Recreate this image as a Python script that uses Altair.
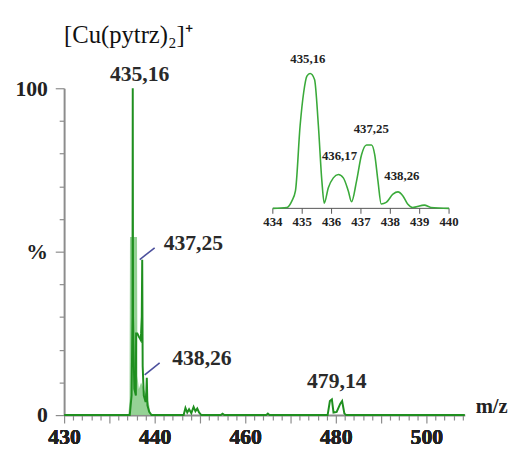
import altair as alt
import pandas as pd

# ---------------- data ----------------
main_mz = [420, 434.5, 434.9, 435.1, 435.16, 435.22, 435.5, 435.85, 435.9, 436.17, 436.5,
           436.9, 437.0, 437.15, 437.25, 437.35, 437.6, 438.0, 438.15, 438.26, 438.4, 438.8,
           439.3, 446.4, 446.8, 447.2, 447.6, 448.1, 448.6, 449.0, 449.4, 449.8, 450.3,
           454.6, 455.0, 455.4, 464.6, 465.0, 465.4, 478.2, 478.7, 479.14, 479.5, 480.2,
           481.0, 481.4, 481.9, 482.3, 508.5]
main_int = [0, 0, 6, 30, 100, 30, 8, 6, 25, 25, 24,
            23, 25, 30, 47.5, 15, 6, 4, 7, 11.4, 3, 1,
            0, 0, 2.2, 0.8, 1.8, 0.6, 2.5, 1.2, 2.0, 0.8, 0,
            0, 0.4, 0, 0, 0.5, 0, 0, 4.3, 4.8, 0.8, 1.0,
            3.5, 4.3, 0.5, 0, 0]

env_mz = [434.2, 434.45, 434.55, 436.1, 436.2, 436.5, 437.0, 437.6, 438.2, 438.8, 439.0]
env_int = [0, 5, 54.5, 54.5, 12, 8, 10, 8, 6, 3, 0]

inset_mz = [434.0, 434.48, 434.65, 434.77, 434.93, 435.05, 435.16, 435.27, 435.42, 435.55,
            435.67, 435.75, 435.89, 436.06, 436.23, 436.40, 436.57, 436.68, 436.85, 437.02,
            437.19, 437.36, 437.47, 437.58, 437.69, 437.86, 438.09, 438.26, 438.43, 438.59,
            438.76, 439.16, 439.38, 440.0]
inset_int = [0, 0.7, 5.6, 12.9, 61.6, 85.9, 98, 100, 95.6, 61.6,
             20.2, 3.9, 15.3, 22.6, 25.1, 22.6, 12.9, 4.9, 20.2, 39.7,
             47, 47, 39.7, 20.2, 3.2, 4.4, 10.5, 12.2, 9.2, 3.2,
             0.7, 2.4, 0.7, 0]

main_label_text = ["435,16", "437,25", "438,26", "479,14"]
main_label_mz = [435.16, 437.25, 438.26, 479.14]
main_label_int = [100, 47.5, 11.4, 4.8]

inset_label_text = ["435,16", "436,17", "437,25", "438,26"]
inset_label_mz = [435.16, 436.17, 437.25, 438.26]
inset_label_int = [100, 25.1, 47, 12.2]

pointer_x = [436.7, 437.8]
pointer_x2 = [440.0, 441.1]
pointer_y = [47.6, 12.3]
pointer_y2 = [51.2, 16.0]

x_tick_values = [420, 440, 460, 480, 500]
x_tick_text = ["430", "440", "460", "480", "500"]
y_tick_values = [0, 50, 100]
y_tick_text = ["0", "%", "100"]
inset_tick_values = [434, 435, 436, 437, 438, 439, 440]

# ---------------- frames ----------------
main_df = pd.DataFrame({"mz": main_mz, "inten": main_int})
env_df = pd.DataFrame({"mz": env_mz, "inten": env_int})
inset_df = pd.DataFrame({"imz": inset_mz, "iint": inset_int})
mlab_df = pd.DataFrame({"t": main_label_text, "mz": main_label_mz, "inten": main_label_int})
ilab_df = pd.DataFrame({"t": inset_label_text, "imz": inset_label_mz, "iint": inset_label_int})
ptr_df = pd.DataFrame({"mz": pointer_x, "mz2": pointer_x2, "inten": pointer_y, "inten2": pointer_y2})
itick_df = pd.DataFrame({"imz": inset_tick_values, "lab": [str(v) for v in inset_tick_values],
                         "y0": [0] * len(inset_tick_values)})

SERIF = "Times New Roman, Liberation Serif, serif"
DARK = "#1f8f1f"
LIGHT = "#8fd08f"


def label_expr(vals, texts):
    expr = "''"
    for v, t in reversed(list(zip(vals, texts))):
        expr = f"datum.value == {v} ? '{t}' : ({expr})"
    return expr


xscale = alt.Scale(domain=[420, 508.5], nice=False, zero=False)
yscale = alt.Scale(domain=[0, 100], nice=False, zero=False)

common_axis = dict(
    domainColor="#8c8c8c", domainWidth=2, tickColor="#8c8c8c", tickWidth=1.2,
    labelFont=SERIF, labelFontWeight="bold", labelFontSize=22, labelColor="#222222",
    grid=False, title=None, labelOverlap=False, labelFlush=False,
)

# minor x ticks (no labels) and major labelled x axis, both at the bottom
xaxis_minor = alt.Axis(orient="bottom", values=list(range(420, 509, 2)), labels=False,
                       tickSize={"condition": {"test": "datum.value % 10 === 0", "value": 8}, "value": 5},
                       **common_axis)
xaxis_major = alt.Axis(orient="bottom", values=x_tick_values,
                       labelExpr=label_expr(x_tick_values, x_tick_text),
                       ticks=False, domain=False, labelPadding=12, **common_axis)

yaxis = alt.Axis(
    orient="left",
    values=list(range(0, 101, 10)),
    labelExpr=label_expr(y_tick_values, y_tick_text),
    tickSize={"condition": {"test": "datum.value % 50 === 0", "value": 9}, "value": 5},
    labelPadding=8, labelBaseline="middle",
    **common_axis,
)

X = alt.X("mz:Q", scale=xscale, axis=xaxis_minor)
XM = alt.X("mz:Q", scale=xscale, axis=xaxis_major)
Y = alt.Y("inten:Q", scale=yscale, axis=yaxis)

env = alt.Chart(env_df).mark_area(color=LIGHT, opacity=0.95).encode(x=X, y=Y)
spec = alt.Chart(main_df).mark_line(color=DARK, strokeWidth=2).encode(x=XM, y=Y)
ptr = alt.Chart(ptr_df).mark_rule(color="#4b4f9c", strokeWidth=1.6).encode(
    x=XM, x2="mz2:Q", y=Y, y2="inten2:Q")

main_offsets = [(7, -14), (52, -17), (56, -20), (5, -19)]
main_labels = []
for (t, (dx, dy)) in zip(main_label_text, main_offsets):
    main_labels.append(
        alt.Chart(mlab_df).transform_filter(alt.datum.t == t).mark_text(
            font=SERIF, fontWeight="bold", fontSize=22, color="#2a2a2a",
            dx=dx, dy=dy, align="center", baseline="middle"
        ).encode(x=XM, y=Y, text="t:N")
    )

title_txt = alt.Chart(pd.DataFrame({"t": ["[Cu(pytrz)₂]⁺"]})).mark_text(
    font=SERIF, fontSize=25, color="#111111", align="left", baseline="alphabetic"
).encode(x=alt.value(0), y=alt.value(-46), text="t:N")

mz_txt = alt.Chart(pd.DataFrame({"t": ["m/z"]})).mark_text(
    font=SERIF, fontWeight="bold", fontSize=21, color="#222222", align="left", baseline="middle"
).encode(x=alt.value(418), y=alt.value(324), text="t:N")

main_layer = alt.layer(env, spec, ptr, *main_labels, title_txt, mz_txt).resolve_axis(x="independent")

# ---------------- inset ----------------
iscale_x = alt.Scale(domain=[434, 440], range=[212, 391], nice=False, zero=False)
iscale_y = alt.Scale(domain=[0, 100], range=[122, -15], nice=False, zero=False)
IX = alt.X("imz:Q", scale=iscale_x, axis=None)
IY = alt.Y("iint:Q", scale=iscale_y, axis=None)

ibase = alt.Chart(itick_df).mark_rule(color="#555555", strokeWidth=1).encode(
    x=alt.X("min(imz):Q", scale=iscale_x, axis=None), x2="max(imz):Q",
    y=alt.Y("min(y0):Q", scale=iscale_y, axis=None))
iticks = alt.Chart(itick_df).mark_rule(color="#555555", strokeWidth=1).encode(
    x=IX, y=alt.Y("y0:Q", scale=iscale_y, axis=None), y2=alt.datum(-4))
iticklab = alt.Chart(itick_df).mark_text(
    font=SERIF, fontWeight="bold", fontSize=13, color="#222222", dy=14, baseline="middle"
).encode(x=IX, y=alt.Y("y0:Q", scale=iscale_y, axis=None), text="lab:N")
icurve = alt.Chart(inset_df).mark_line(color="#3aaa3a", strokeWidth=1.6, interpolate="monotone").encode(
    x=IX, y=IY)

inset_offsets = [(1, -8), (3, -12), (3, -9), (4, -9)]
inset_labels = []
for (t, (dx, dy)) in zip(inset_label_text, inset_offsets):
    inset_labels.append(
        alt.Chart(ilab_df).transform_filter(alt.datum.t == t).mark_text(
            font=SERIF, fontWeight="bold", fontSize=13, color="#222222",
            dx=dx, dy=dy, align="center", baseline="bottom"
        ).encode(x=IX, y=IY, text="t:N")
    )

inset_layer = alt.layer(ibase, iticks, iticklab, icurve, *inset_labels)

chart = alt.layer(main_layer, inset_layer).resolve_scale(
    x="independent", y="independent"
).properties(
    width=407, height=332,
    autosize=alt.AutoSizeParams(type="none"),
    padding={"left": 57, "top": 78, "right": 52, "bottom": 37},
).configure_view(stroke=None)

chart.save("out.html", embed_options={"renderer": "svg", "actions": False})
